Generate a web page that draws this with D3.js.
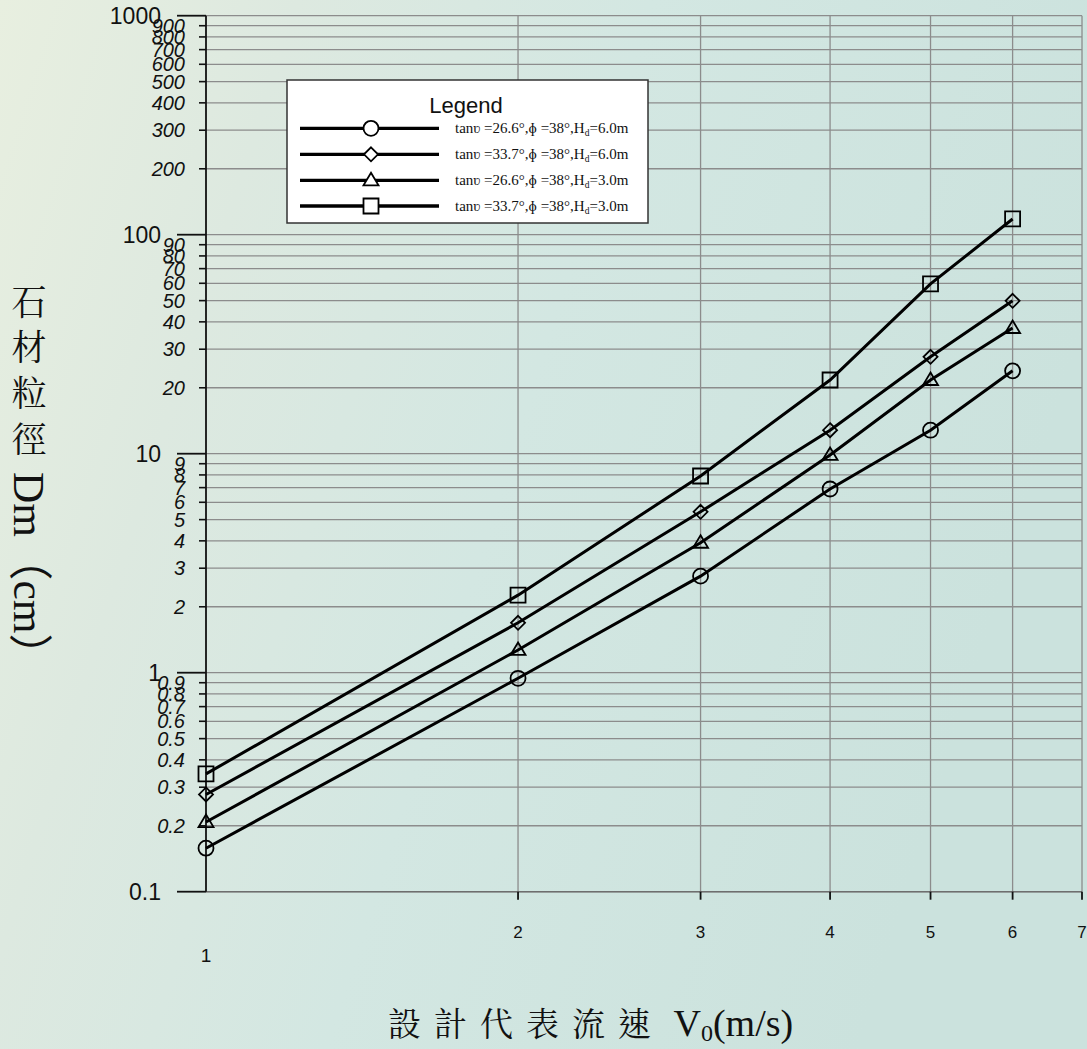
<!DOCTYPE html>
<html><head><meta charset="utf-8">
<script src="https://cdn.jsdelivr.net/npm/d3@7"></script>
<style>html,body{margin:0;padding:0;overflow:hidden;background:#d8e8e2} svg{display:block}</style>
</head><body>
<svg id="chart" width="1087" height="1049"></svg>
<script>
// ---- data ----
const velocities = [1, 2, 3, 4, 5, 6];
const seriesCircle   = [0.158, 0.943, 2.76, 6.9, 12.8, 23.9];
const seriesDiamond  = [0.278, 1.69, 5.43, 12.8, 27.7, 49.9];
const seriesTriangle = [0.208, 1.27, 3.92, 9.87, 21.7, 37.5];
const seriesSquare   = [0.345, 2.26, 7.91, 21.7, 59.6, 118];
const legendAngles = ["26.6", "33.7", "26.6", "33.7"];
const legendHd = ["6.0", "6.0", "3.0", "3.0"];
const xTickValues = [1, 2, 3, 4, 5, 6, 7];
const yMajorTicks = [0.1, 1, 10, 100, 1000];
const yMinorTicks = [0.2,0.3,0.4,0.5,0.6,0.7,0.8,0.9, 2,3,4,5,6,7,8,9, 20,30,40,50,60,70,80,90, 200,300,400,500,600,700,800,900];

const svg = d3.select("#chart");
const W = 1087, H = 1049;

// background
const defs = svg.append("defs");
const g1 = defs.append("linearGradient").attr("id","bg").attr("x1","0").attr("y1","0").attr("x2","1").attr("y2","0.3");
[["0%","#e8efe0"],["25%","#dde9e0"],["55%","#d3e7e2"],["100%","#cbe2dd"]].forEach(s=>g1.append("stop").attr("offset",s[0]).attr("stop-color",s[1]));
svg.append("rect").attr("width",W).attr("height",H).attr("fill","url(#bg)");

const x = d3.scaleLog().domain([1, 7]).range([206, 1082]);
const y = d3.scaleLog().domain([0.1, 1000]).range([891.7, 15.7]);

// grid
const grid = svg.append("g").attr("stroke","#8c8c8c").attr("stroke-width",1.3);
grid.selectAll("line.h").data(yMajorTicks.concat(yMinorTicks)).join("line")
  .attr("x1", 206).attr("x2", 1082).attr("y1", d=>y(d)).attr("y2", d=>y(d));
grid.selectAll("line.v").data(xTickValues.slice(1)).join("line")
  .attr("x1", d=>x(d)).attr("x2", d=>x(d)).attr("y1", y(1000)).attr("y2", y(0.1));
svg.append("line").attr("x1",206).attr("x2",1082).attr("y1",y(0.1)).attr("y2",y(0.1)).attr("stroke","#6e6e6e").attr("stroke-width",1.6);

// y axis
const yAxis = svg.append("g").attr("stroke","#111");
yAxis.append("line").attr("x1",206).attr("x2",206).attr("y1",y(1000)).attr("y2",y(0.1)).attr("stroke-width",1.8);
yAxis.selectAll("line.maj").data(yMajorTicks).join("line").attr("class","maj")
  .attr("x1",177).attr("x2",206).attr("y1",d=>y(d)).attr("y2",d=>y(d)).attr("stroke-width",1.8);
yAxis.selectAll("line.min").data(yMinorTicks).join("line").attr("class","min")
  .attr("x1",199).attr("x2",206).attr("y1",d=>y(d)).attr("y2",d=>y(d)).attr("stroke-width",1.6);

svg.selectAll("text.ymaj").data(yMajorTicks).join("text").attr("class","ymaj")
  .attr("x",161).attr("y",d=>y(d)).attr("dy","0.36em").attr("text-anchor","end")
  .attr("font-family","Liberation Sans, Arial, sans-serif").attr("font-size",23).attr("fill","#111")
  .text(d=>String(d));
svg.selectAll("text.ymin").data(yMinorTicks).join("text").attr("class","ymin")
  .attr("x",185).attr("y",d=>y(d)).attr("dy","0.36em").attr("text-anchor","end")
  .attr("font-family","Liberation Sans, Arial, sans-serif").attr("font-style","italic").attr("font-size",20).attr("fill","#111")
  .text(d=>String(d));

// x axis ticks
svg.selectAll("line.xt").data(xTickValues.slice(1)).join("line").attr("class","xt")
  .attr("x1",d=>x(d)).attr("x2",d=>x(d)).attr("y1",y(0.1)).attr("y2",y(0.1)+8)
  .attr("stroke","#111").attr("stroke-width",1.8);
svg.selectAll("text.xl").data(xTickValues).join("text").attr("class","xl")
  .attr("x",d=>x(d)).attr("y",d=> d===1 ? 962 : 938).attr("text-anchor","middle")
  .attr("font-family","Liberation Sans, Arial, sans-serif").attr("font-size",d=> d===1 ? 19 : 17).attr("fill","#111")
  .text(d=>String(d));

// series
const seriesList = [
  {vals: seriesCircle, shape: "circle"},
  {vals: seriesDiamond, shape: "diamond"},
  {vals: seriesTriangle, shape: "triangle"},
  {vals: seriesSquare, shape: "square"}
];
function shapePath(s){
  if(s==="circle") return "M7.5,0A7.5,7.5,0,1,1,-7.5,0A7.5,7.5,0,1,1,7.5,0Z";
  if(s==="diamond") return "M0,-7L7,0L0,7L-7,0Z";
  if(s==="triangle") return "M0,-7.5L7.5,5L-7.5,5Z";
  return "M-7.5,-7.5L7.5,-7.5L7.5,7.5L-7.5,7.5Z";
}
const line = d3.line().x(d=>x(d[0])).y(d=>y(d[1]));
seriesList.forEach(s=>{
  const pts = velocities.map((v,i)=>[v, s.vals[i]]);
  svg.append("path").attr("d", line(pts)).attr("fill","none").attr("stroke","#000").attr("stroke-width",3);
  svg.append("g").selectAll("path").data(pts).join("path")
    .attr("transform", d=>`translate(${x(d[0])},${y(d[1])})`)
    .attr("d", shapePath(s.shape)).attr("fill","none").attr("stroke","#000").attr("stroke-width",1.8);
});

// legend
const lg = svg.append("g");
lg.append("rect").attr("x",287).attr("y",80).attr("width",361).attr("height",143)
  .attr("fill","#fff").attr("stroke","#333").attr("stroke-width",1.5);
lg.append("text").attr("x",466).attr("y",113).attr("text-anchor","middle")
  .attr("font-family","Liberation Sans, Arial, sans-serif").attr("font-size",22).attr("fill","#111").text("Legend");
const rowY = [128.3, 154.3, 180.3, 206];
seriesList.forEach((s,i)=>{
  const ry = rowY[i];
  lg.append("line").attr("x1",300).attr("x2",439).attr("y1",ry).attr("y2",ry).attr("stroke","#000").attr("stroke-width",3.3);
  lg.append("path").attr("transform",`translate(371,${ry})`).attr("d",shapePath(s.shape))
    .attr("fill","#fff").attr("stroke","#000").attr("stroke-width",1.8);
  const t = lg.append("text").attr("x",455).attr("y",ry+5)
    .attr("font-family","Liberation Serif, Times New Roman, serif").attr("font-size",15).attr("fill","#111");
  t.append("tspan").text(`tan\u028B =${legendAngles[i]}\u00B0,\u0278 =38\u00B0,H`);
  t.append("tspan").attr("font-size",9.5).attr("dy",3).text("d");
  t.append("tspan").attr("dy",-3).text(`=${legendHd[i]}m`);
});

// y axis title
const cjk = ["石","材","粒","徑"];
const cjkY = [302, 347, 393, 439];
svg.selectAll("text.yt").data(cjk).join("text").attr("class","yt")
  .attr("x",29).attr("y",(d,i)=>cjkY[i]).attr("dy","0.38em").attr("text-anchor","middle")
  .attr("font-family","Noto Serif CJK TC, Noto Sans CJK TC, serif").attr("font-size",35).attr("fill","#111")
  .text(d=>d);
svg.append("text").attr("transform","translate(29,472) rotate(90)").attr("dy","0.33em")
  .attr("font-family","Liberation Serif, Times New Roman, Noto Sans CJK TC, serif").attr("font-size",44).attr("fill","#111")
  .attr("textLength",205).attr("lengthAdjust","spacingAndGlyphs")
  .text("Dm（cm）");

// x axis title
const xt = svg.append("text").attr("x",388).attr("y",1036)
  .attr("font-family","Liberation Serif, Noto Serif CJK TC, Noto Sans CJK TC, serif").attr("font-size",38).attr("fill","#111");
xt.append("tspan").attr("font-family","Noto Serif CJK TC, Noto Sans CJK TC, serif").attr("font-size",33).attr("letter-spacing",13).text("設計代表流速");
xt.append("tspan").text(" V");
xt.append("tspan").attr("font-size",24).attr("dy",5).text("0");
xt.append("tspan").attr("dy",-5).text("(m/s)");
</script>
</body></html>
